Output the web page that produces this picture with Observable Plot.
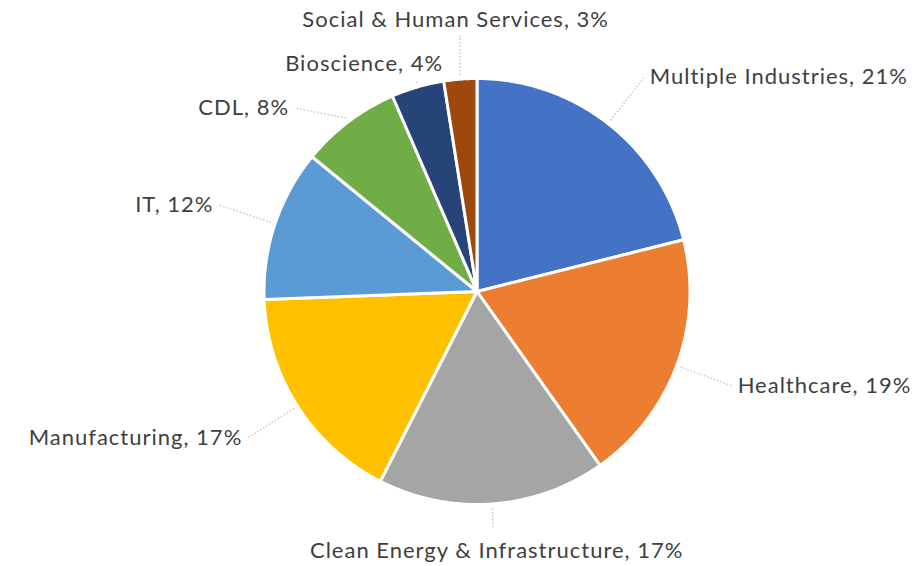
<!DOCTYPE html>
<html>
<head>
<meta charset="utf-8">
<script src="https://cdn.jsdelivr.net/npm/d3@7"></script>
<script src="https://cdn.jsdelivr.net/npm/@observablehq/plot@0.6"></script>
<style>
  html, body { margin: 0; padding: 0; background: #fff; }
  #chart svg { display: block; }
</style>
</head>
<body>
<div id="chart"></div>
<script>
// ---- data ----
const categories = ["Multiple Industries", "Healthcare", "Clean Energy & Infrastructure", "Manufacturing", "IT", "CDL", "Bioscience", "Social & Human Services"];
const shares = [21.1, 19.1, 17.3, 16.9, 11.5, 7.6, 4.0, 2.5];
const colors = ["#4472C4", "#ED7D31", "#A5A5A5", "#FFC000", "#5B9BD5", "#70AD47", "#264478", "#9E480E"];

// ---- layout ----
const W = 917, H = 566;
const cx = 476.5, cy = 291, R = 213; // pixel center / radius
const xDomain = [-cx / R, (W - cx) / R];
const yDomain = [-(H - cy) / R, cy / R];
const toPx = (x, y) => [cx + x * R, cy - y * R];
const toU = (px, py) => [(px - cx) / R, (cy - py) / R];

const pie = d3.pie().sort(null).value(d => d)(shares);
const slices = pie.map((p, i) => {
  const pts = [{x: 0, y: 0}];
  const n = Math.max(8, Math.ceil((p.endAngle - p.startAngle) / 0.01));
  for (let k = 0; k <= n; k++) {
    const a = p.startAngle + (p.endAngle - p.startAngle) * k / n;
    pts.push({x: Math.sin(a), y: Math.cos(a)});
  }
  pts.push({x: 0, y: 0});
  return {name: categories[i], color: colors[i], pts};
});

// label layout (pixel space), then converted back to data units
const LR = 1.28 * R, minGap = 44, edgeMargin = 16;
let labels = pie.map((p, i) => {
  const a = (p.startAngle + p.endAngle) / 2;
  const s = Math.sin(a), c = Math.cos(a);
  const side = Math.abs(s) < 0.35 ? "middle" : (s > 0 ? "start" : "end");
  let px = cx + LR * s, py = cy - LR * c;
  py = Math.max(edgeMargin, Math.min(H - edgeMargin - 0, py));
  return {text: `${categories[i]}, ${Math.round(shares[i])}%`, side, s, c, px, py,
          ex: cx + 1.02 * R * s, ey: cy - 1.02 * R * c};
});
// resolve vertical collisions on each half
for (const half of [labels.filter(d => d.s < 0), labels.filter(d => d.s >= 0)]) {
  half.sort((a, b) => a.py - b.py);
  for (let k = 1; k < half.length; k++) {
    const prev = half[k - 1], cur = half[k];
    if (cur.py < prev.py + minGap) {
      cur.py = prev.py + minGap;
      const dy = cy - cur.py;
      const circX = cx + Math.sign(cur.s) * Math.sqrt(Math.max(0, LR * LR - dy * dy));
      cur.px = (cur.px + circX) / 2;
    }
  }
}
labels = labels.map(d => {
  const [x, y] = toU(d.px, d.py);
  const [x1, y1] = toU(d.ex, d.ey);
  let lx = d.px, ly = d.py;
  if (d.side === "middle") ly = d.c > 0 ? d.py + 16 : d.py - 22;
  const [x2, y2] = toU(d.side === "middle" ? d.ex + (ly - d.ey) * 0 : lx, ly);
  return {...d, x, y, x1, y1, x2, y2};
});

const textStyle = {fontSize: 22, fill: "#404040", fontFamily: "Lato, 'Open Sans', sans-serif", lineAnchor: "middle"};

const chart = Plot.plot({
  width: W, height: H,
  margin: 0,
  x: {domain: xDomain, axis: null},
  y: {domain: yDomain, axis: null},
  style: {fontFamily: "Lato, sans-serif", background: "#fff"},
  marks: [
    ...slices.map(s => Plot.line(s.pts, {x: "x", y: "y", curve: "linear", fill: s.color, stroke: "white", strokeWidth: 3, strokeLinejoin: "round"})),
    Plot.link(labels, {x1: "x1", y1: "y1", x2: "x2", y2: "y2", stroke: "#c8c8c8", strokeWidth: 1.5, strokeDasharray: "1.5,2"}),
    Plot.text(labels.filter(d => d.side === "start"), {x: "x", y: "y", text: "text", textAnchor: "start", dx: 5, ...textStyle}),
    Plot.text(labels.filter(d => d.side === "end"), {x: "x", y: "y", text: "text", textAnchor: "end", dx: -5, ...textStyle}),
    Plot.text(labels.filter(d => d.side === "middle"), {x: "x", y: "y", text: "text", textAnchor: "middle", ...textStyle})
  ]
});
chart.querySelectorAll("text").forEach(t => t.style.letterSpacing = "1px");
document.getElementById("chart").appendChild(chart);
</script>
</body>
</html>
